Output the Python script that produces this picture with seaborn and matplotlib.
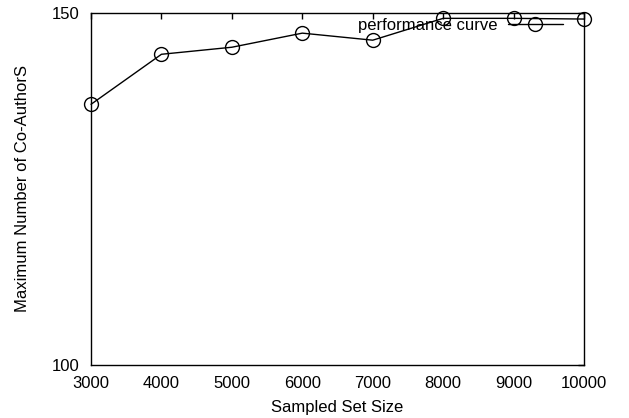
import matplotlib
matplotlib.use('Agg')
import matplotlib.pyplot as plt
import seaborn as sns
import pandas as pd

# values
sample_sizes = [3000, 4000, 5000, 6000, 7000, 8000, 9000, 10000]
max_coauthors = [137.0, 144.1, 145.1, 147.1, 146.1, 149.2, 149.2, 149.1]
x_ticks = [3000, 4000, 5000, 6000, 7000, 8000, 9000, 10000]
y_ticks = [100, 150]

sns.set_style('white')
plt.rcParams['font.family'] = ['Liberation Sans', 'DejaVu Sans']
plt.rcParams['font.size'] = 12
plt.rcParams['text.color'] = 'black'
plt.rcParams['axes.labelcolor'] = 'black'

df = pd.DataFrame({'size': sample_sizes, 'coauthors': max_coauthors})

fig = plt.figure(figsize=(6.29, 4.18), dpi=100)
ax = fig.add_axes([0.1447, 0.1268, 0.7838, 0.8428])

sns.lineplot(data=df, x='size', y='coauthors', ax=ax, color='black',
             linewidth=1, marker='o', markersize=10, markerfacecolor='none',
             markeredgecolor='black', markeredgewidth=1,
             label='performance curve', clip_on=False)

ax.set_xlim(3000, 10000)
ax.set_ylim(100, 150)
ax.set_xticks(x_ticks)
ax.set_yticks(y_ticks)
ax.tick_params(axis='both', direction='in', length=4.5, width=1, colors='black',
               labelsize=12, top=True, right=True)
ax.tick_params(axis='x', pad=8)
ax.tick_params(axis='y', pad=8)
for s in ax.spines.values():
    s.set_color('black')
    s.set_linewidth(1)

ax.set_xlabel('Sampled Set Size', fontsize=12, labelpad=6.5)
ax.set_ylabel('Maximum Number of Co-AuthorS', fontsize=12, labelpad=16)

ax.legend(loc='center right', bbox_to_anchor=(0.957, 0.965), frameon=False,
          markerfirst=False, handlelength=3.3, handletextpad=0.6,
          borderpad=0, borderaxespad=0, fontsize=12)

plt.savefig('out.png', dpi=100)
